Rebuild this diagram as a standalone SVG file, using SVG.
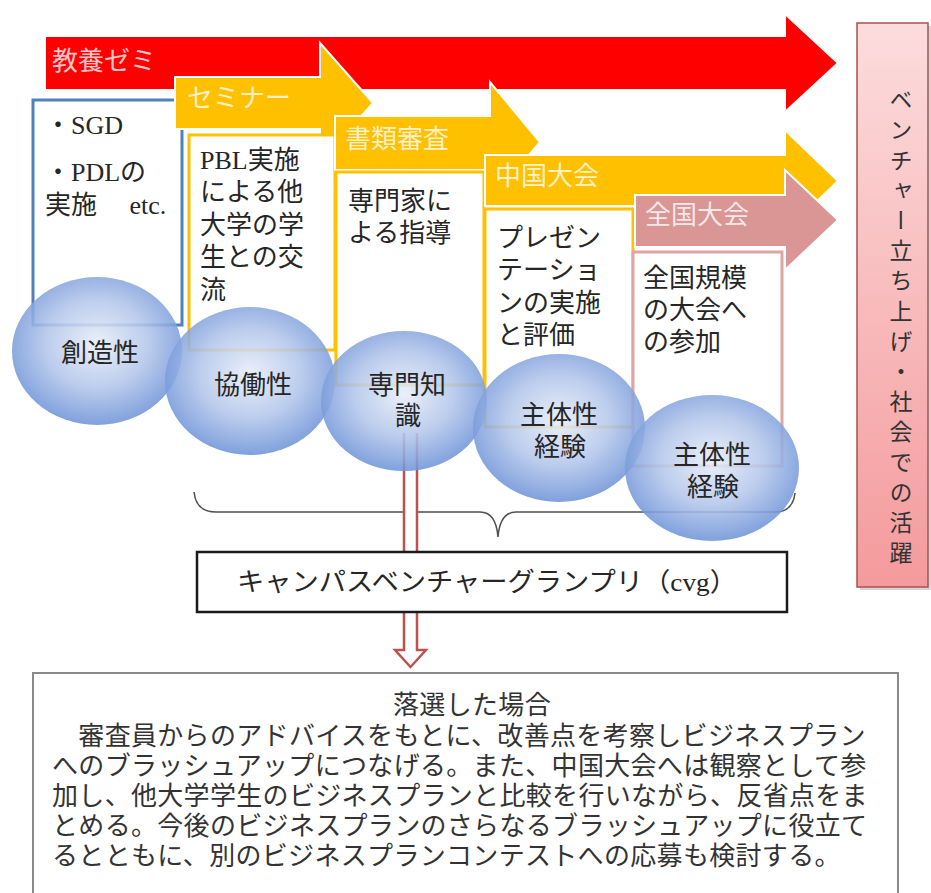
<svg xmlns="http://www.w3.org/2000/svg" width="931" height="893" viewBox="0 0 931 893">
<defs>
<radialGradient id="sph" cx="0.5" cy="0.45" r="0.55">
<stop offset="0" stop-color="#E8EEF8"/>
<stop offset="0.55" stop-color="#B2C5EA"/>
<stop offset="1" stop-color="#6F94D8"/>
</radialGradient>
<linearGradient id="pinkg" x1="0" y1="0" x2="0" y2="1">
<stop offset="0" stop-color="#FCDCDD"/>
<stop offset="1" stop-color="#F49A9C"/>
</linearGradient>
<style>
.arw{stroke:#fff;stroke-width:2;stroke-linejoin:miter}
.lbl{font-family:"Liberation Sans","Noto Sans CJK JP",sans-serif;font-size:26px;fill:#fff;fill-opacity:0.78;dominant-baseline:central}
.box{fill:#fff;stroke-width:3}
.bt{font-family:"Liberation Serif","Noto Sans CJK JP",serif;font-size:26px;fill:#262626;dominant-baseline:central}
.ct{font-family:"Liberation Sans","Noto Sans CJK JP",sans-serif;font-size:26px;fill:#262626;dominant-baseline:central;text-anchor:middle}
.sph{fill:url(#sph);fill-opacity:0.88}
.jt{font-family:"Liberation Sans","Noto Sans CJK JP",sans-serif;font-size:26px;letter-spacing:0.32px;fill:#333;dominant-baseline:central}
</style>
</defs>
<rect width="931" height="893" fill="#fff"/>

<g id="arrow-kyoyo">
<path class="arw" fill="#FF0000" d="M45,36 H785 V14 L838,63 L785,112 V90 H45 Z"/>
<text class="lbl" x="52" y="61">教養ゼミ</text>
</g>
<g id="box-sgd">
<rect class="box" x="33" y="100" width="149" height="225" stroke="#4F81BD"/>
<text class="bt" x="45" y="125" font-size="25">・SGD</text>
<text class="bt" x="45" y="172" font-size="25">・PDLの</text>
<text class="bt" x="45" y="205" font-size="25" xml:space="preserve">実施　 etc.</text>
</g>
<g id="arrow-seminar">
<path class="arw" fill="#FFC000" d="M175,77 H320 V43 L373,103 L320,163 V129 H175 Z"/>
<text class="lbl" x="187" y="98">セミナー</text>
</g>
<g id="box-pbl">
<rect class="box" x="189" y="135" width="146" height="215" stroke="#FFC000"/>
<text class="bt" x="200" y="160" font-size="27">PBL実施</text>
<text class="bt" x="200" y="192.5" font-size="27">による他</text>
<text class="bt" x="200" y="225" font-size="27">大学の学</text>
<text class="bt" x="200" y="257.5" font-size="27">生との交</text>
<text class="bt" x="200" y="290" font-size="27">流</text>
</g>
<g id="arrow-shorui">
<path class="arw" fill="#FFC000" d="M335,116 H490 V82 L540,142 L490,202 V170 H335 Z"/>
<text class="lbl" x="345" y="139">書類審査</text>
</g>
<g id="box-senmon">
<rect class="box" x="336" y="172" width="148" height="213" stroke="#FFC000"/>
<text class="bt" x="348" y="201" font-size="27">専門家に</text>
<text class="bt" x="348" y="233" font-size="27">よる指導</text>
</g>
<g id="arrow-chugoku">
<path class="arw" fill="#FFC000" d="M485,155 H785 V130 L838,181 L785,232 V206 H485 Z"/>
<text class="lbl" x="495" y="176">中国大会</text>
</g>
<g id="box-present">
<rect class="box" x="485" y="209" width="148" height="218" stroke="#FFC000"/>
<text class="bt" x="497" y="238" font-size="27">プレゼン</text>
<text class="bt" x="497" y="270.5" font-size="27">テーショ</text>
<text class="bt" x="497" y="303" font-size="27">ンの実施</text>
<text class="bt" x="497" y="335.5" font-size="27">と評価</text>
</g>
<g id="arrow-zenkoku">
<path class="arw" fill="#D99694" d="M635,195 H785 V170 L838,220 L785,270 V247 H635 Z"/>
<text class="lbl" x="645" y="215">全国大会</text>
</g>
<g id="box-zenkoku">
<rect class="box" x="633" y="252" width="149" height="214" stroke="#DDA4A4"/>
<text class="bt" x="643" y="278" font-size="27">全国規模</text>
<text class="bt" x="643" y="310" font-size="27">の大会へ</text>
<text class="bt" x="643" y="342" font-size="27">の参加</text>
</g>

<g id="connectors">
<path d="M194,492 Q196,512 216,512 L480,512 Q496,512 498,537 Q500,512 516,512 L775,512 Q793,512 795,493" fill="none" stroke="#505050" stroke-width="1.5"/>
<polygon points="404,433 404,650 395,650 410.5,667 426,650 417,650 417,433" fill="#fff"/>
<polyline points="404,433 404,650 395,650 410.5,667 426,650 417,650 417,433" fill="none" stroke="#C0504D" stroke-width="2.5" stroke-linejoin="miter"/>
</g>

<g id="box-cvg">
<rect x="197" y="552" width="590" height="60" fill="#fff" stroke="#1a1a1a" stroke-width="2.5"/>
<text class="bt" x="237" y="582" font-size="26" fill="#333" textLength="500" lengthAdjust="spacingAndGlyphs">キャンパスベンチャーグランプリ（cvg）</text>
</g>

<g id="circle-sozo">
<ellipse class="sph" cx="97" cy="351" rx="85" ry="74"/>
<text class="ct" x="100" y="353">創造性</text>
</g>
<g id="circle-kyodo">
<ellipse class="sph" cx="250" cy="381" rx="85" ry="74"/>
<text class="ct" x="253" y="385">協働性</text>
</g>
<g id="circle-senmon">
<ellipse class="sph" cx="404" cy="401" rx="83" ry="70"/>
<text class="ct" x="407" y="385">専門知</text>
<text class="ct" x="408" y="416">識</text>
</g>
<g id="circle-shutai1">
<ellipse class="sph" cx="559" cy="428" rx="86" ry="74"/>
<text class="ct" x="559" y="415">主体性</text>
<text class="ct" x="560" y="447">経験</text>
</g>
<g id="circle-shutai2">
<ellipse class="sph" cx="712" cy="468" rx="87" ry="73"/>
<text class="ct" x="712" y="455">主体性</text>
<text class="ct" x="713" y="487">経験</text>
</g>

<g id="box-venture">
<rect x="860" y="26" width="72" height="564" fill="#888" fill-opacity="0.35"/>
<rect x="857" y="23" width="71" height="564" fill="url(#pinkg)" stroke="#A8524F" stroke-width="1.5"/>
<text x="901" y="88" font-family="Noto Sans CJK JP, sans-serif" font-size="23" fill="#333" letter-spacing="7.2" style="writing-mode:vertical-rl">ベンチャー立ち上げ・社会での活躍</text>
</g>

<g id="box-rakusen">
<rect x="33" y="673" width="865" height="240" fill="#fff" stroke="#8a8a8a" stroke-width="2"/>
<text class="jt" x="472" y="705" text-anchor="middle">落選した場合</text>
<text class="jt" x="52" y="736">　審査員からのアドバイスをもとに、改善点を考察しビジネスプラン</text>
<text class="jt" x="52" y="766">へのブラッシュアップにつなげる。また、中国大会へは観察として参</text>
<text class="jt" x="52" y="796">加し、他大学学生のビジネスプランと比較を行いながら、反省点をま</text>
<text class="jt" x="52" y="826">とめる。今後のビジネスプランのさらなるブラッシュアップに役立て</text>
<text class="jt" x="52" y="856">るとともに、別のビジネスプランコンテストへの応募も検討する。</text>
</g>
</svg>
